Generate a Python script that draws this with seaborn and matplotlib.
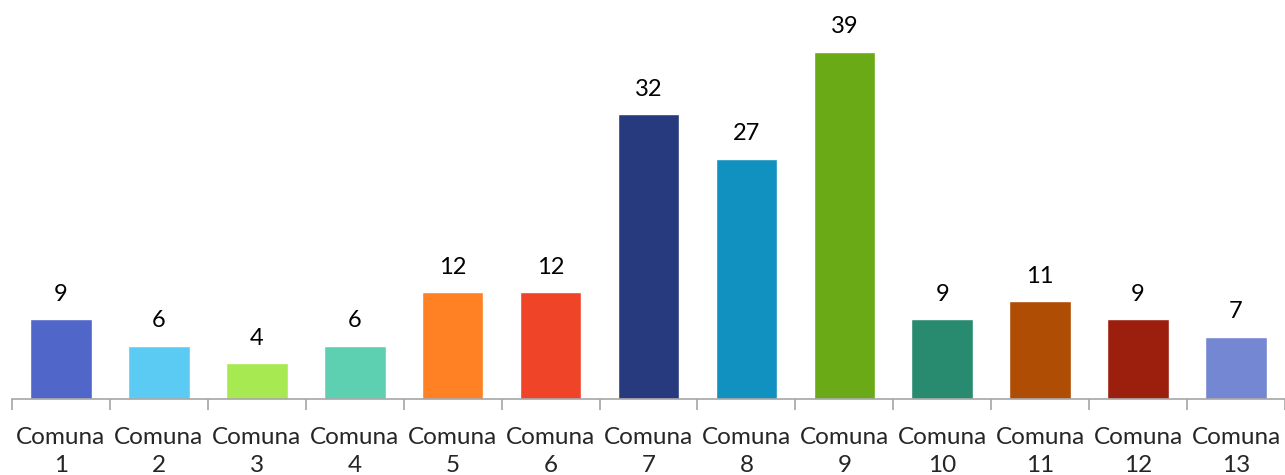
import matplotlib
matplotlib.use("Agg")
import matplotlib.pyplot as plt
import seaborn as sns
import pandas as pd
import numpy as np

# datos
comunas = [f"Comuna\n{i}" for i in range(1, 14)]
valores = [9, 6, 4, 6, 12, 12, 32, 27, 39, 9, 11, 9, 7]
colores = ["#5066C9", "#5BCBF3", "#A7E950", "#5CD0B1", "#FF8124", "#F04428",
           "#283A7E", "#1191BF", "#6BAA17", "#288B6F", "#B04D05", "#9C1F0D",
           "#7487D2"]

sns.set_theme(style="white")
plt.rcParams["font.family"] = ["Lato", "DejaVu Sans"]

df = pd.DataFrame({"comuna": comunas, "valor": valores})

fig = plt.figure(figsize=(12.85, 4.75), dpi=100)
ax = fig.add_axes([12 / 1285, 76 / 475, 1 - 12 / 1285, 399 / 475])

sns.barplot(data=df, x="comuna", y="valor", hue="comuna", palette=colores,
            width=0.63, legend=False, ax=ax, saturation=1)

for i, v in enumerate(valores):
    ax.text(i, v + 1.6, str(v), ha="center", va="bottom", fontsize=17, color="black")

ax.set_xlim(-0.5, len(comunas) - 0.5)
ax.set_ylim(0, 44.8)
ax.set_xlabel("")
ax.set_ylabel("")
ax.set_yticks([])

for s in ["top", "right", "left"]:
    ax.spines[s].set_visible(False)
ax.spines["bottom"].set_color("#A6A6A6")
ax.spines["bottom"].set_linewidth(1.2)

ax.tick_params(axis="x", which="major", length=0, pad=20, labelsize=17.5)
ax.set_xticks(np.arange(-0.5, len(comunas)), minor=True)
ax.tick_params(axis="x", which="minor", length=8, color="#A6A6A6", width=1.2,
               direction="out")
ax.xaxis.set_ticks_position("bottom")
for lbl in ax.get_xticklabels():
    lbl.set_linespacing(1.45)

fig.savefig("out.png", dpi=100)
